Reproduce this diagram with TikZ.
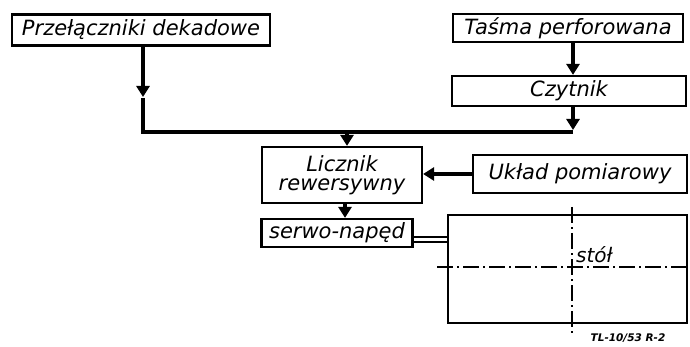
\documentclass[tikz,border=0pt]{standalone}
\usepackage{fontspec}
\setmainfont{DejaVu Sans}
\usetikzlibrary{arrows.meta}
\begin{document}
\begin{tikzpicture}[x=1pt,y=-1pt,
  blk/.style={draw, line width=2.2pt, inner sep=0pt, font=\fontsize{21}{23}\selectfont\itshape},
  flow/.style={line width=4.5pt, -{Triangle[width=13pt,length=11pt]}},
  wire/.style={line width=4.5pt},
  axis/.style={line width=1.1pt, dash pattern=on 16pt off 4pt on 2pt off 4pt}]
\useasboundingbox (0,0) rectangle (690,347);
\node[blk, minimum width=258pt, minimum height=31pt] (prz) at (141,30) {Przełączniki dekadowe};
\node[blk, minimum width=230pt, minimum height=28pt] (tas) at (568,28) {Taśma perforowana};
\node[blk, minimum width=234pt, minimum height=30pt] (czy) at (569,91) {Czytnik};
\node[blk, minimum width=160pt, minimum height=56pt, align=center] (lic) at (342,175) {Licznik\\[-4pt]rewersywny};
\node[blk, minimum width=214pt, minimum height=38pt] (ukl) at (580,174) {Układ pomiarowy};
\node[blk, minimum width=151pt, minimum height=28pt] (ser) at (337,233) {serwo-napęd};
\node[draw, line width=2.2pt, minimum width=239pt, minimum height=108pt, inner sep=0pt] (sto) at (567.5,269) {};
\coordinate (p1) at (143,97);
\coordinate (p2) at (143,98);
\coordinate (jl) at (143,132);
\coordinate (jr) at (573,132);
\coordinate (jm) at (347,132);
% flows
\draw[flow] (prz.south -| p1) -- (p1);
\draw[wire] (p2) -- (jl) -- (jr);
\draw[flow] (tas.south -| jr) -- (czy.north -| jr);
\draw[flow] (czy.south -| jr) -- ([yshift=2pt]jr);
\draw[flow] (jm) -- (lic.north -| jm);
\draw[flow] (ukl.west) -- (lic.east |- ukl.west);
\draw[flow] (lic.south -| 345,0) -- (ser.north -| 345,0);
% double coupling
\coordinate (c1) at (0,237);
\coordinate (c2) at (0,242);
\draw[line width=1.2pt] (ser.east |- c1) -- (sto.west |- c1);
\draw[line width=1.2pt] (ser.east |- c2) -- (sto.west |- c2);
% axes
\coordinate (ax1) at (572,207);
\coordinate (ax2) at (572,333);
\coordinate (ay1) at (437,267);
\coordinate (ay2) at (690,267);
\draw[axis] (ax1) -- (ax2);
\draw[axis] (ay1) -- (ay2);
\node[anchor=south west, inner sep=0pt, font=\fontsize{20}{22}\selectfont\itshape] (lab) at (576,263) {stół};
\node[inner sep=0pt, font=\fontsize{10.5}{12}\selectfont\bfseries\itshape] (stamp) at (628,338) {TL-10/53 R-2};
\end{tikzpicture}
\end{document}
